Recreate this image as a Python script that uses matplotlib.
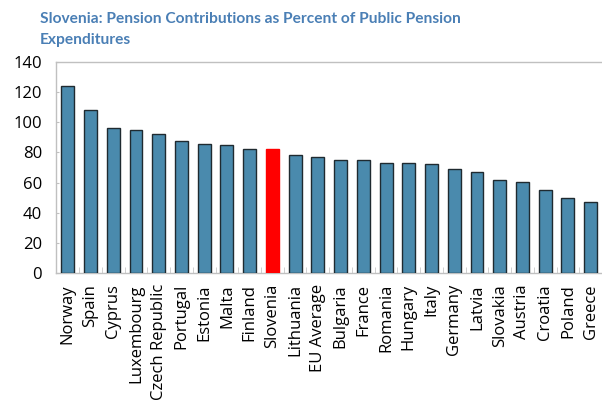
import numpy as np
from matplotlib import pyplot as plt

countries = ["Norway", "Spain", "Cyprus", "Luxembourg", "Czech Republic", "Portugal",
             "Estonia", "Malta", "Finland", "Slovenia", "Lithuania", "EU Average",
             "Bulgaria", "France", "Romania", "Hungary", "Italy", "Germany", "Latvia",
             "Slovakia", "Austria", "Croatia", "Poland", "Greece"]
values = [124.3, 108.3, 96.3, 95.2, 92.5, 87.8, 85.7, 85.0, 82.5, 82.3, 78.5, 77.2,
          75.3, 75.3, 72.7, 72.7, 72.0, 68.7, 66.7, 61.4, 60.1, 55.4, 49.5, 46.8]
highlight = "Slovenia"

plt.rcParams['font.family'] = ['Open Sans', 'DejaVu Sans']

fig = plt.figure(figsize=(6.02, 4.0), dpi=100)
ax = fig.add_axes([56 / 602, 1 - 273 / 400, 1 - 56 / 602, (273 - 62) / 400])

x = np.arange(len(countries))
colors = ["#ff0000" if c == highlight else "#4a8aad" for c in countries]
edges = ["#ff0000" if c == highlight else "#1f2a30" for c in countries]
ax.bar(x, values, width=0.57, color=colors, edgecolor=edges, linewidth=1.0, zorder=3)

ax.set_xlim(-0.52, 23.38)
ax.set_ylim(0, 140)
ax.set_yticks(range(0, 141, 20))
ax.set_xticks(x)
ax.set_xticklabels(countries, rotation=90, fontsize=12)
ax.tick_params(axis='y', labelsize=12, direction='in', length=2, color="#c0c0c0", pad=10)
ax.tick_params(axis='x', length=0, pad=8)
# small gray ticks between the bars
ax.set_xticks(np.arange(len(countries)) + 0.5, minor=True)
ax.tick_params(axis='x', which='minor', direction='in', length=4, color="#c8c8c8")

for s in ["left", "top", "bottom"]:
    ax.spines[s].set_color("#c0c0c0")
    ax.spines[s].set_linewidth(1.0)
ax.spines["right"].set_visible(False)

fig.text(40 / 602, 1 - 12 / 400, "Slovenia: Pension Contributions as Percent of Public Pension\nExpenditures",
         ha="left", va="top", fontsize=11.2, fontweight="bold", color="#4a7fb5",
         family=["Lato", "DejaVu Sans"], linespacing=1.65)

fig.savefig("out.png", dpi=100)
